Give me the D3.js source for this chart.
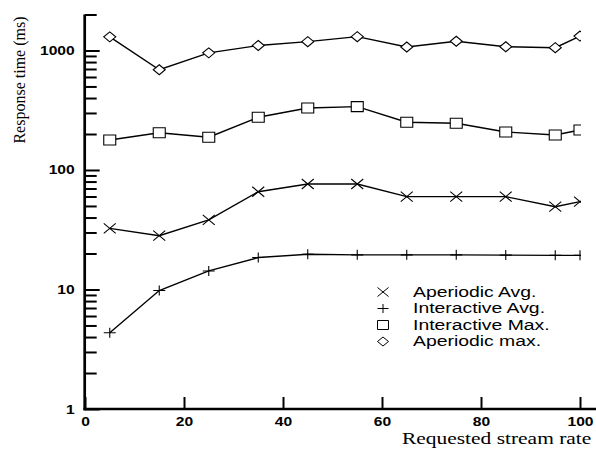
<!DOCTYPE html>
<html>
<head>
  <title>Response time vs stream rate</title>
  <script src='https://d3js.org/d3.v7.min.js'></script>
  <style>
    body { margin: 0; background: #fff; }
  </style>
</head>
<body>
  <script>
// Data
var rates = [5, 15, 25, 35, 45, 55, 65, 75, 85, 95, 100];
var aperiodicAvg = [32.5, 28.2, 38.2, 65.8, 76.4, 76.4, 59.8, 59.8, 59.8, 49.3, 54.3];
var interactiveAvg = [4.35, 9.8, 14.3, 18.5, 19.7, 19.5, 19.5, 19.5, 19.4, 19.3, 19.3];
var interactiveMax = [178, 205, 188, 276, 330, 339, 251, 246, 208, 196, 216];
var aperiodicMax = [1300, 690, 955, 1100, 1185, 1305, 1070, 1195, 1075, 1055, 1320];

var xTicks = [0, 20, 40, 60, 80, 100];
var yMajor = [1, 10, 100, 1000];
var legendNames = ['Aperiodic Avg.', 'Interactive Avg.', 'Interactive Max.', 'Aperiodic max.'];

var width = 596,
    height = 449;

var svg = d3.select('body')
  .append('svg')
  .attr('width', width)
  .attr('height', height);

var x = d3.scaleLinear().domain([0, 100]).range([85, 580]);
var y = d3.scaleLog().domain([1, 2000]).range([409, 14.5]);

// the picture is a bit stretched sideways, so the flat text is too
var stretch = 1.25;

// marker shapes, w = half width, h = half height
function cross(w, h) { return 'M' + (-w) + ',' + (-h) + 'L' + w + ',' + h + 'M' + (-w) + ',' + h + 'L' + w + ',' + (-h); }
function plus(w, h) { return 'M' + (-w) + ',0L' + w + ',0M0,' + (-h) + 'L0,' + h; }
function square(w, h) { return 'M' + (-w) + ',' + (-h) + 'H' + w + 'V' + h + 'H' + (-w) + 'Z'; }
function diamond(w, h) { return 'M0,' + (-h) + 'L' + w + ',0L0,' + h + 'L' + (-w) + ',0Z'; }

var series = [
  { values: aperiodicAvg, shape: cross },
  { values: interactiveAvg, shape: plus },
  { values: interactiveMax, shape: square },
  { values: aperiodicMax, shape: diamond }
];

// y axis: minor ticks, then major with labels
var minors = [];
for (var p = 0; p < 4; p++) {
  for (var m = 2; m < 10; m++) {
    var v = m * Math.pow(10, p);
    if (v <= 2000) minors.push(v);
  }
}

svg.append('g')
  .attr('transform', 'translate(84.7,0)')
  .call(d3.axisLeft(y).tickValues(minors).tickSize(-12).tickFormat(''))
  .call(function(g) { g.select('.domain').remove(); });

var yAxis = svg.append('g')
  .attr('transform', 'translate(84.7,0)')
  .call(d3.axisLeft(y).tickValues(yMajor).tickSize(-15).tickPadding(10).tickFormat(d3.format('d')));
yAxis.select('.domain').remove();

var xAxis = svg.append('g')
  .attr('transform', 'translate(0,409)')
  .call(d3.axisBottom(x).tickValues(xTicks).tickSize(-12).tickPadding(8));
xAxis.select('.domain').remove();

svg.selectAll('.tick line').attr('stroke', '#000').attr('stroke-width', 2);
svg.selectAll('.tick text')
  .attr('fill', '#000')
  .style('font-family', "'Liberation Sans', Arial, sans-serif")
  .style('font-weight', 'bold')
  .style('font-size', '12.5px');
yAxis.selectAll('.tick text')
  .attr('x', 0)
  .attr('transform', 'translate(-10,0) scale(' + stretch + ',1)');
xAxis.selectAll('.tick text')
  .attr('transform', 'scale(' + stretch + ',1)');

// axis lines
svg.append('line')
  .attr('x1', 84.7).attr('x2', 84.7)
  .attr('y1', y(1) + 1.3).attr('y2', y(2000))
  .attr('stroke', '#000').attr('stroke-width', 2.7);
svg.append('line')
  .attr('x1', 83.4).attr('x2', width)
  .attr('y1', y(1)).attr('y2', y(1))
  .attr('stroke', '#000').attr('stroke-width', 2.7);

// data, clipped at rate 100
svg.append('clipPath')
  .attr('id', 'plot')
  .append('rect')
  .attr('x', x(0)).attr('y', 0)
  .attr('width', x(100) - x(0) + 1).attr('height', y(1));

var plot = svg.append('g').attr('clip-path', 'url(#plot)');

var line = d3.line()
  .x(function(d, i) { return x(rates[i]); })
  .y(function(d) { return y(d); });

series.forEach(function(s) {
  plot.append('path')
    .attr('d', line(s.values))
    .attr('fill', 'none')
    .attr('stroke', '#000')
    .attr('stroke-width', 1.4);

  plot.selectAll(null)
    .data(s.values)
    .enter()
    .append('path')
    .attr('transform', function(d, i) { return 'translate(' + x(rates[i]) + ',' + y(d) + ')'; })
    .attr('d', s.shape(6, 5))
    .attr('fill', s.shape === cross || s.shape === plus ? 'none' : '#fff')
    .attr('stroke', '#000')
    .attr('stroke-width', 1.1);
});

// legend
var legend = svg.append('g');
legendNames.forEach(function(name, i) {
  var ly = 292 + i * 16.5;
  legend.append('path')
    .attr('transform', 'translate(383,' + ly + ')')
    .attr('d', series[i].shape(5.5, 4.5))
    .attr('fill', 'none')
    .attr('stroke', '#000')
    .attr('stroke-width', 1);
  legend.append('text')
    .attr('transform', 'translate(413,' + (ly + 4.5) + ') scale(' + stretch + ',1)')
    .style('font-family', "'Liberation Sans', Arial, sans-serif")
    .style('font-size', '15.5px')
    .text(name);
});

// axis titles
svg.append('text')
  .attr('transform', 'translate(402,444) scale(1.3,1)')
  .style('font-family', "'Liberation Serif', 'Times New Roman', serif")
  .style('font-size', '16.5px')
  .text('Requested stream rate');

svg.append('text')
  .attr('transform', 'translate(25,80) rotate(-90)')
  .attr('text-anchor', 'middle')
  .style('font-family', "'Liberation Serif', 'Times New Roman', serif")
  .style('font-size', '16px')
  .text('Response time (ms)');
  </script>
</body>
</html>
